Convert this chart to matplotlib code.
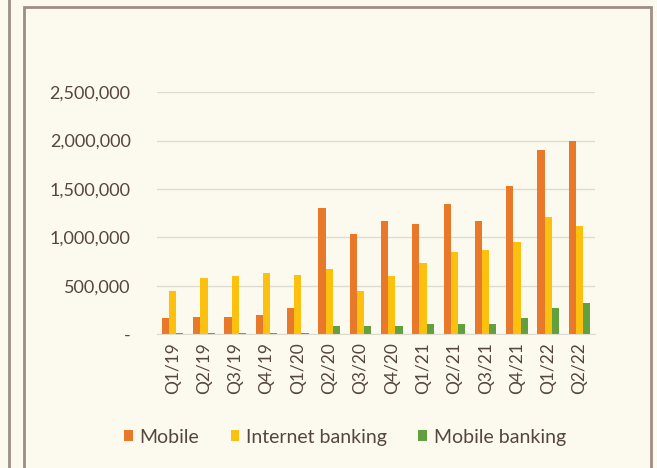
import numpy as np
import matplotlib.pyplot as plt
from matplotlib.patches import Rectangle
from matplotlib.ticker import FuncFormatter

quarters = ['Q1/19', 'Q2/19', 'Q3/19', 'Q4/19', 'Q1/20', 'Q2/20', 'Q3/20', 'Q4/20',
            'Q1/21', 'Q2/21', 'Q3/21', 'Q4/21', 'Q1/22', 'Q2/22']
mobile = [165000, 175000, 180000, 200000, 270000, 1300000, 1030000, 1170000,
          1140000, 1340000, 1170000, 1530000, 1900000, 2000000]
internet_banking = [450000, 580000, 600000, 630000, 610000, 670000, 450000, 600000,
                    740000, 850000, 870000, 950000, 1210000, 1120000]
mobile_banking = [10000, 15000, 10000, 10000, 12000, 80000, 80000, 80000,
                  100000, 100000, 110000, 170000, 270000, 320000]

bg = '#fcfaee'
text_col = '#55463f'
plt.rcParams['font.family'] = ['Lato', 'DejaVu Sans']

fig = plt.figure(figsize=(6.57, 4.68), dpi=100, facecolor=bg)

# frame lines around the panel
fig.patches.append(Rectangle((0.036, -0.05), 0.955, 1.035, transform=fig.transFigure,
                             fill=False, edgecolor='#9c8f85', linewidth=2))
fig.patches.append(Rectangle((-0.05, -0.05), 0.063, 1.2, transform=fig.transFigure,
                             fill=False, edgecolor='#9c8f85', linewidth=2))

ax = fig.add_axes([0.239, 0.286, 0.667, 0.517])
ax.set_facecolor(bg)

x = np.arange(len(quarters))
w = 0.23
ax.bar(x - w, mobile, w, color='#e8792a', label='Mobile')
ax.bar(x, internet_banking, w, color='#fcc10f', label='Internet banking')
ax.bar(x + w, mobile_banking, w, color='#62a03f', label='Mobile banking')

ax.set_xlim(-0.5, len(quarters) - 0.5)
ax.set_ylim(0, 2500000)
ax.set_yticks(np.arange(0, 2500001, 500000))
ax.yaxis.set_major_formatter(FuncFormatter(lambda v, p: '-' if v == 0 else f'{int(v):,}'))
ax.grid(axis='y', color='#dedbd2', linewidth=1)
ax.set_axisbelow(True)
for s in ['top', 'right', 'left']:
    ax.spines[s].set_visible(False)
ax.spines['bottom'].set_color('#dedbd2')

ax.set_xticks(x)
ax.set_xticklabels(quarters, rotation=90)
ax.tick_params(axis='both', length=0, colors=text_col)
ax.tick_params(axis='y', pad=19, labelsize=13)
ax.tick_params(axis='x', pad=6, labelsize=12.5)

leg = fig.legend(loc='center', bbox_to_anchor=(0.525, 0.066), ncol=3, frameon=False,
                 fontsize=14, handlelength=0.45, handleheight=0.45, handletextpad=0.35,
                 columnspacing=1.6)
for t in leg.get_texts():
    t.set_color(text_col)

fig.savefig('out.png', dpi=100, facecolor=bg)
